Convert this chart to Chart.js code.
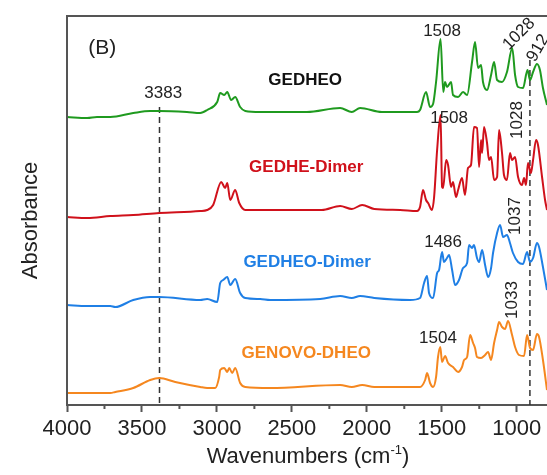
<!DOCTYPE html>
<html>
<head>
<meta charset="utf-8">
<script src="https://cdn.jsdelivr.net/npm/chart.js@4.4.1/dist/chart.umd.min.js"></script>
<style>
    html, body { margin: 0; padding: 0; background: #fff; }
    #wrap { width: 547px; height: 475px; position: relative; }
</style>
</head>
<body>
<div id="wrap"><canvas id="ftirChart"></canvas></div>
<script>
    // Wavenumber / absorbance pairs (curves already offset)
    const gedheoWn = [4000, 3865, 3800, 3711, 3558, 3445, 3385, 3200, 3111, 3065, 2998, 2978, 2951, 2931, 2905, 2878, 2845, 2811, 2711, 2645, 2400, 2178, 2100, 2045, 1900, 1778, 1665, 1645, 1605, 1578, 1558, 1538, 1508, 1490, 1478, 1465, 1438, 1425, 1391, 1358, 1331, 1298, 1278, 1258, 1238, 1225, 1198, 1171, 1151, 1131, 1098, 1065, 1030, 1011, 991, 958, 928, 911, 891, 865, 845, 825, 798];
    const gedheoAbs = [2.88, 2.87, 2.88, 2.88, 2.92, 2.94, 2.94, 2.93, 2.92, 2.95, 3.03, 3.12, 3.10, 3.13, 3.05, 3.08, 2.98, 2.94, 2.93, 2.93, 2.93, 2.97, 2.93, 2.97, 2.93, 2.93, 2.93, 2.95, 3.13, 2.98, 3.01, 3.23, 3.66, 3.13, 3.23, 3.18, 3.23, 3.10, 3.08, 3.13, 3.10, 3.43, 3.63, 3.37, 3.40, 3.23, 3.15, 3.30, 3.43, 3.25, 3.23, 3.33, 3.57, 3.30, 3.18, 3.17, 3.35, 3.25, 3.33, 3.41, 3.35, 3.17, 3.00];

    const dimerWn = [4000, 3865, 3711, 3558, 3385, 3111, 3065, 3025, 2971, 2945, 2931, 2911, 2878, 2851, 2811, 2645, 2300, 2178, 2100, 2031, 1950, 1778, 1665, 1645, 1625, 1605, 1591, 1565, 1551, 1531, 1508, 1498, 1491, 1471, 1458, 1438, 1425, 1405, 1391, 1365, 1345, 1325, 1305, 1285, 1265, 1251, 1238, 1231, 1218, 1198, 1185, 1171, 1151, 1131, 1118, 1098, 1085, 1065, 1045, 1031, 1011, 991, 965, 951, 938, 925, 905, 891, 871, 858, 831, 811, 798];
    const dimerAbs = [1.88, 1.87, 1.89, 1.90, 1.92, 1.94, 1.95, 2.00, 2.23, 2.17, 2.22, 2.05, 2.15, 2.02, 1.95, 1.95, 1.95, 1.99, 1.96, 2.00, 1.96, 1.95, 1.94, 1.98, 2.15, 2.05, 2.02, 1.95, 2.08, 2.55, 2.90, 2.18, 2.17, 2.45, 2.40, 2.18, 2.23, 2.08, 2.15, 2.27, 2.10, 2.37, 2.40, 2.78, 2.77, 2.38, 2.65, 2.52, 2.78, 2.62, 2.45, 2.48, 2.25, 2.28, 2.75, 2.52, 2.30, 2.25, 2.52, 2.45, 2.48, 2.28, 2.20, 2.27, 2.20, 2.42, 2.32, 2.45, 2.65, 2.60, 2.28, 2.05, 1.95];

    const gedheoDimerWn = [4000, 3865, 3711, 3678, 3558, 3445, 3385, 3111, 3065, 2998, 2978, 2958, 2931, 2911, 2878, 2845, 2811, 2711, 2645, 2311, 2178, 2100, 2045, 1950, 1711, 1645, 1618, 1598, 1585, 1558, 1531, 1518, 1498, 1485, 1465, 1451, 1431, 1411, 1385, 1358, 1331, 1318, 1298, 1285, 1265, 1251, 1231, 1211, 1191, 1171, 1158, 1131, 1111, 1091, 1065, 1045, 1025, 991, 958, 931, 911, 891, 865, 851, 825, 798];
    const gedheoDimerAbs = [1.00, 0.99, 0.99, 0.98, 1.05, 1.08, 1.08, 1.05, 1.06, 1.03, 1.22, 1.25, 1.28, 1.20, 1.26, 1.12, 1.07, 1.06, 1.05, 1.06, 1.09, 1.07, 1.09, 1.07, 1.05, 1.07, 1.22, 1.29, 1.12, 1.07, 1.32, 1.35, 1.53, 1.43, 1.47, 1.50, 1.35, 1.20, 1.25, 1.37, 1.42, 1.60, 1.57, 1.60, 1.47, 1.43, 1.55, 1.40, 1.28, 1.37, 1.52, 1.72, 1.80, 1.68, 1.70, 1.62, 1.52, 1.43, 1.41, 1.53, 1.43, 1.47, 1.62, 1.58, 1.38, 1.15];

    const genovoWn = [4000, 3711, 3678, 3558, 3445, 3385, 3278, 3111, 3065, 3011, 2985, 2978, 2951, 2931, 2918, 2898, 2878, 2845, 2811, 2645, 2178, 2100, 2031, 1950, 1711, 1645, 1611, 1598, 1578, 1558, 1538, 1525, 1510, 1498, 1478, 1458, 1425, 1391, 1365, 1351, 1331, 1311, 1291, 1278, 1265, 1238, 1211, 1191, 1171, 1151, 1131, 1118, 1098, 1078, 1058, 1031, 1011, 985, 951, 931, 911, 891, 865, 851, 825, 798];
    const genovoAbs = [0.12, 0.12, 0.13, 0.17, 0.25, 0.27, 0.23, 0.18, 0.17, 0.17, 0.28, 0.35, 0.37, 0.33, 0.37, 0.32, 0.37, 0.22, 0.18, 0.17, 0.20, 0.18, 0.20, 0.18, 0.18, 0.18, 0.25, 0.32, 0.22, 0.18, 0.28, 0.48, 0.58, 0.43, 0.49, 0.42, 0.38, 0.33, 0.38, 0.45, 0.48, 0.70, 0.62, 0.57, 0.48, 0.47, 0.50, 0.53, 0.45, 0.62, 0.75, 0.83, 0.78, 0.76, 0.84, 0.70, 0.58, 0.50, 0.49, 0.70, 0.57, 0.55, 0.71, 0.68, 0.45, 0.15];

    const seriesNames = ['GEDHEO', 'GEDHE-Dimer', 'GEDHEO-Dimer', 'GENOVO-DHEO'];
    const tickValues = [4000, 3500, 3000, 2500, 2000, 1500, 1000];
    const minorTickValues = [3750, 3250, 2750, 2250, 1750, 1250, 750];
    const markerWn = [3383, 912];
    const markerTop = [2.98, 3.45];
    const peakTexts = ['3383', '1508', '1028', '912', '1508', '1028', '1486', '1037', '1504', '1033'];

    const colors = ['#1f9a1f', '#d0111b', '#1f7fe5', '#f5871f'];
    const labelColors = ['#111111', '#d0111b', '#1f7fe5', '#f5871f'];

    const toPoints = (wn, ab) => wn.map((w, i) => ({ x: w, y: ab[i] }));

    const curves = [
        toPoints(gedheoWn, gedheoAbs),
        toPoints(dimerWn, dimerAbs),
        toPoints(gedheoDimerWn, gedheoDimerAbs),
        toPoints(genovoWn, genovoAbs)
    ];

    const datasets = curves.map((pts, i) => ({
        label: seriesNames[i],
        data: pts,
        borderColor: colors[i],
        borderWidth: 2,
        pointRadius: 0,
        cubicInterpolationMode: 'monotone',
        fill: false
    }));

    markerWn.forEach((w, i) => {
        datasets.push({
            label: 'marker' + i,
            data: [{ x: w, y: markerTop[i] }, { x: w, y: 0 }],
            borderColor: '#333',
            borderWidth: 1.5,
            borderDash: [6, 4],
            pointRadius: 0,
            fill: false
        });
    });

    // label placement in data coordinates
    const seriesLabelPos = [
        { x: 2411, y: 3.25 },
        { x: 2404, y: 2.38 },
        { x: 2398, y: 1.43 },
        { x: 2404, y: 0.52 }
    ];
    const peakLabelPos = [
        { x: 3358, y: 3.12, rot: 0 },
        { x: 1498, y: 3.74, rot: 0 },
        { x: 985, y: 3.71, rot: -45 },
        { x: 858, y: 3.57, rot: -60 },
        { x: 1451, y: 2.87, rot: 0 },
        { x: 998, y: 2.85, rot: -90 },
        { x: 1491, y: 1.63, rot: 0 },
        { x: 1011, y: 1.89, rot: -90 },
        { x: 1525, y: 0.67, rot: 0 },
        { x: 1031, y: 1.05, rot: -90 }
    ];

    const FONT = "'Liberation Sans', Arial, sans-serif";

    const decorPlugin = {
        id: 'decor',
        afterDatasetsDraw(chart) {
            const { ctx, chartArea, scales } = chart;
            const xs = scales.x, ys = scales.y;
            ctx.save();

            // frame: left and top
            ctx.strokeStyle = '#555';
            ctx.lineWidth = 2;
            ctx.beginPath();
            ctx.moveTo(chartArea.left, chartArea.bottom);
            ctx.lineTo(chartArea.left, chartArea.top);
            ctx.lineTo(chartArea.right, chartArea.top);
            ctx.stroke();

            // minor ticks
            minorTickValues.forEach(v => {
                const px = xs.getPixelForValue(v);
                if (px < chartArea.left || px > chartArea.right) return;
                ctx.beginPath();
                ctx.moveTo(px, chartArea.bottom);
                ctx.lineTo(px, chartArea.bottom + 4);
                ctx.stroke();
            });

            ctx.textAlign = 'center';
            ctx.textBaseline = 'middle';

            // series names
            ctx.font = 'bold 17px ' + FONT;
            seriesNames.forEach((n, i) => {
                ctx.fillStyle = labelColors[i];
                ctx.fillText(n, xs.getPixelForValue(seriesLabelPos[i].x), ys.getPixelForValue(seriesLabelPos[i].y));
            });

            // peak labels
            ctx.font = '17px ' + FONT;
            ctx.fillStyle = '#222';
            peakTexts.forEach((t, i) => {
                const p = peakLabelPos[i];
                ctx.save();
                ctx.translate(xs.getPixelForValue(p.x), ys.getPixelForValue(p.y));
                ctx.rotate(p.rot * Math.PI / 180);
                ctx.fillText(t, 0, 0);
                ctx.restore();
            });

            // panel tag
            ctx.font = '21px ' + FONT;
            ctx.fillText('(B)', xs.getPixelForValue(3765), ys.getPixelForValue(3.57));

            // y title
            ctx.save();
            ctx.font = '22px ' + FONT;
            ctx.translate(31, (chartArea.top + chartArea.bottom) / 2 + 10);
            ctx.rotate(-Math.PI / 2);
            ctx.fillText('Absorbance', 0, 0);
            ctx.restore();

            // x title with superscript
            ctx.textBaseline = 'alphabetic';
            ctx.textAlign = 'left';
            const main = 'Wavenumbers (cm';
            const sup = '-1';
            ctx.font = '22px ' + FONT;
            const wMain = ctx.measureText(main).width;
            const wClose = ctx.measureText(')').width;
            ctx.font = '13px ' + FONT;
            const wSup = ctx.measureText(sup).width;
            const total = wMain + wSup + wClose;
            let tx = 308 - total / 2;
            const ty = 463;
            ctx.font = '22px ' + FONT;
            ctx.fillText(main, tx, ty);
            tx += wMain;
            ctx.font = '13px ' + FONT;
            ctx.fillText(sup, tx, ty - 9);
            tx += wSup;
            ctx.font = '22px ' + FONT;
            ctx.fillText(')', tx, ty);

            ctx.restore();
        }
    };

    new Chart(document.getElementById('ftirChart').getContext('2d'), {
        type: 'line',
        data: { datasets: datasets },
        options: {
            responsive: true,
            maintainAspectRatio: false,
            animation: false,
            layout: { padding: { left: 67, top: 16, right: 0, bottom: 0 } },
            plugins: {
                legend: { display: false },
                tooltip: { enabled: false }
            },
            scales: {
                x: {
                    type: 'linear',
                    reverse: true,
                    min: 798,
                    max: 4000,
                    afterBuildTicks: (scale) => {
                        scale.ticks = tickValues.map(v => ({ value: v }));
                    },
                    afterFit: (scale) => { scale.height = 70; },
                    ticks: {
                        color: '#222',
                        padding: 4,
                        maxRotation: 0,
                        autoSkip: false,
                        font: { family: FONT, size: 22 },
                        callback: (v) => String(v)
                    },
                    grid: {
                        drawOnChartArea: false,
                        drawTicks: true,
                        tickLength: 7,
                        tickColor: '#555',
                        tickWidth: 2
                    },
                    border: { color: '#555', width: 2 }
                },
                y: {
                    display: false,
                    min: 0,
                    max: 3.89
                }
            }
        },
        plugins: [decorPlugin]
    });
</script>
</body>
</html>
